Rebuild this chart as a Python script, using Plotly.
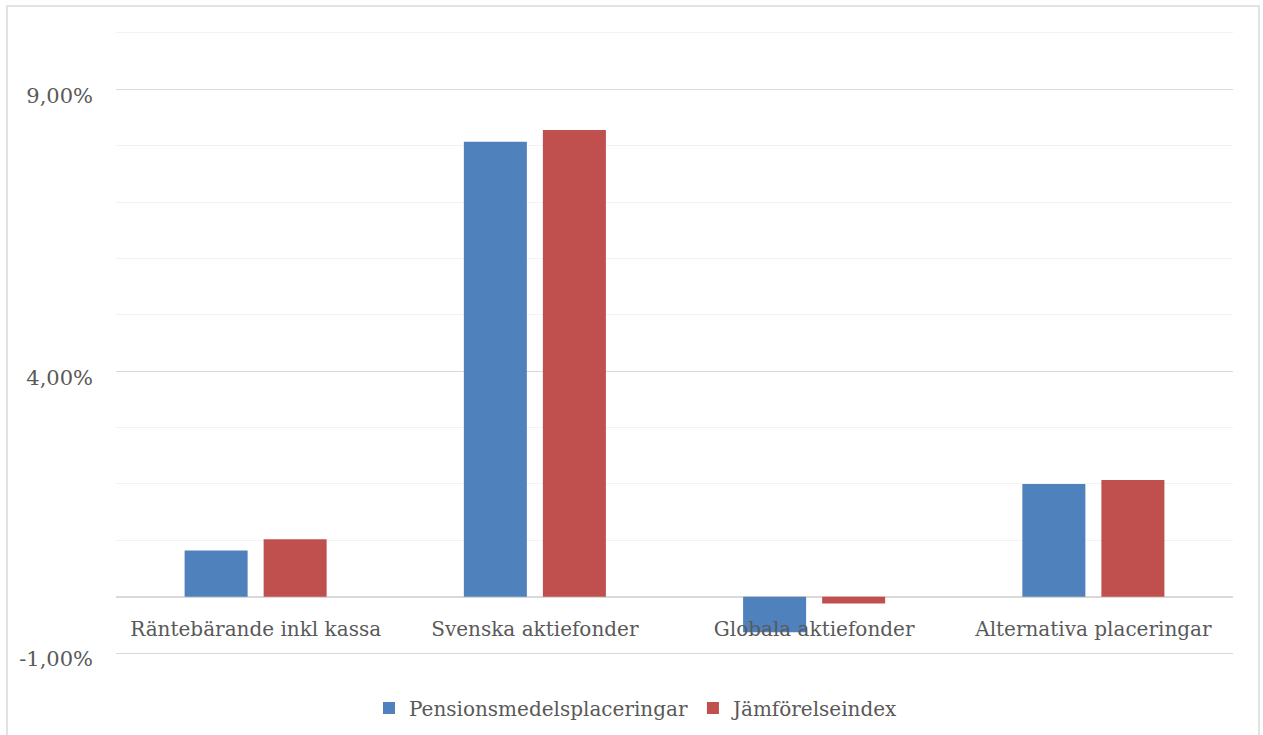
import plotly.graph_objects as go

categories = ["Räntebärande inkl kassa", "Svenska aktiefonder", "Globala aktiefonder", "Alternativa placeringar"]
pension = [0.82, 8.07, -0.63, 2.00]
index_vals = [1.02, 8.28, -0.12, 2.07]
series_names = ["Pensionsmedelsplaceringar", "Jämförelseindex"]
colors = ["#4f81bd", "#c0504d"]
y_tickvals = [-1, 4, 9]
y_ticktext = ["-1,00%", "4,00%", "9,00%"]

FONT = "DejaVu Serif"
TXT = "#595959"

fig = go.Figure()
fig.add_trace(go.Bar(x=categories, y=pension, name=series_names[0], marker_color=colors[0], marker_line_width=0))
fig.add_trace(go.Bar(x=categories, y=index_vals, name=series_names[1], marker_color=colors[1], marker_line_width=0))

W, H = 1263, 735
L, R, T, B = 116, 30, 31, 80
pw, ph = W - L - R, H - T - B
ymin, ymax = -1.035, 10.035

fig.update_layout(
    width=W, height=H,
    margin=dict(l=L, r=R, t=T, b=B, autoexpand=False),
    paper_bgcolor="white", plot_bgcolor="white",
    barmode="group", bargap=0.434, bargroupgap=0.2025,
    font=dict(family=FONT, color=TXT, size=20),
    showlegend=True,
    legend=dict(orientation="h", xref="container", yref="container",
                x=637 / W, xanchor="center", y=1 - 708 / H, yanchor="middle",
                font=dict(family=FONT, size=20, color=TXT), itemwidth=30, traceorder="normal"),
    xaxis=dict(anchor="free", position=(0 - ymin) / (ymax - ymin), showline=False, ticks="", showgrid=False,
               layer="above traces", ticklabelstandoff=18,
               tickfont=dict(family=FONT, size=20, color=TXT), fixedrange=True),
    yaxis=dict(range=[ymin, ymax], tickvals=y_tickvals, ticktext=y_ticktext,
               showgrid=True, gridcolor="#d9d9d9", gridwidth=1.3,
               minor=dict(dtick=1, tick0=0, showgrid=True, gridcolor="#f2f2f2", gridwidth=1.3),
               zeroline=True, zerolinecolor="#d9d9d9", zerolinewidth=1.5,
               showline=False, ticks="", ticklabelstandoff=22, ticklabelshift=6,
               tickfont=dict(family=FONT, size=21, color=TXT)),
    shapes=[dict(type="rect", xref="paper", yref="paper",
                 x0=(7 - L) / pw, x1=(1259 - L) / pw,
                 y0=-0.3, y1=(H - B - 6) / ph,
                 line=dict(color="#d9d9d9", width=1.5), fillcolor="rgba(0,0,0,0)", layer="below")],
)

fig.write_html("out.html")
